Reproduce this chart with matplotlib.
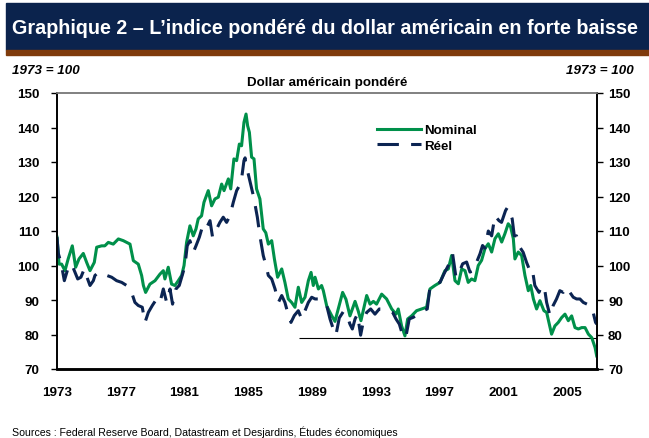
import matplotlib
matplotlib.use("Agg")
import matplotlib.pyplot as plt
from matplotlib.patches import Rectangle

plt.rcParams['font.family'] = ['Liberation Sans', 'DejaVu Sans']

# ---- data ----
nominal_years = [1973.0, 1973.13, 1973.29, 1973.5, 1973.7, 1973.96, 1974.17, 1974.38, 1974.65, 1974.86,
                 1975.07, 1975.34, 1975.49, 1975.8, 1976.0, 1976.22, 1976.53, 1976.85, 1977.16, 1977.37,
                 1977.58, 1977.79, 1978.1, 1978.31, 1978.42, 1978.56, 1978.83, 1979.15, 1979.46, 1979.67,
                 1979.77, 1979.98, 1980.19, 1980.4, 1980.61, 1980.82, 1980.97, 1981.13, 1981.34, 1981.55,
                 1981.72, 1981.86, 1982.07, 1982.22, 1982.49, 1982.7, 1982.91, 1983.12, 1983.33, 1983.48,
                 1983.75, 1983.9, 1984.1, 1984.27, 1984.44, 1984.58, 1984.73, 1984.86, 1984.96, 1985.07,
                 1985.21, 1985.36, 1985.52, 1985.73, 1985.94, 1986.1, 1986.26, 1986.47, 1986.64, 1986.84,
                 1987.1, 1987.3, 1987.51, 1987.72, 1987.93, 1988.14, 1988.35, 1988.56, 1988.77, 1988.94,
                 1989.08, 1989.19, 1989.4, 1989.6, 1989.71, 1989.92, 1990.23, 1990.44, 1990.65, 1990.92,
                 1991.13, 1991.38, 1991.7, 1991.9, 1992.07, 1992.43, 1992.64, 1992.85, 1993.05, 1993.37,
                 1993.68, 1994.0, 1994.27, 1994.41, 1994.62, 1994.83, 1995.0, 1995.25, 1995.56, 1995.88,
                 1996.19, 1996.4, 1996.71, 1997.03, 1997.34, 1997.55, 1997.76, 1997.97, 1998.18, 1998.39,
                 1998.6, 1998.8, 1999.01, 1999.22, 1999.43, 1999.64, 1999.85, 2000.06, 2000.27, 2000.48,
                 2000.69, 2000.9, 2001.1, 2001.31, 2001.46, 2001.63, 2001.73, 2001.94, 2002.15, 2002.36,
                 2002.57, 2002.72, 2002.89, 2003.09, 2003.3, 2003.55, 2003.72, 2004.03, 2004.24, 2004.45,
                 2004.66, 2004.87, 2005.08, 2005.29, 2005.5, 2005.71, 2005.92, 2006.13, 2006.34, 2006.55,
                 2006.76, 2006.86]
nominal_values = [108.2, 100.4, 100.4, 98.5, 101.9, 105.7, 99.5, 101.9, 103.5, 100.9,
                  98.5, 100.9, 105.3, 105.7, 105.7, 106.7, 106.2, 107.7, 107.2, 106.7,
                  106.2, 101.4, 100.4, 97.1, 94.2, 92.2, 94.6, 95.6, 97.5, 98.5,
                  96.1, 99.5, 94.6, 94.2, 95.6, 97.1, 100.0, 106.7, 111.5, 108.6,
                  110.6, 113.5, 114.4, 118.3, 121.7, 117.3, 119.3, 119.8, 123.6, 121.7,
                  125.1, 122.2, 130.9, 130.4, 135.2, 134.7, 141.5, 143.9, 140.5, 138.6,
                  131.4, 130.9, 122.2, 119.3, 110.6, 109.5, 106.2, 107.2, 101.9, 96.6,
                  99.0, 95.1, 90.3, 89.3, 87.9, 93.7, 89.3, 90.8, 95.6, 98.0,
                  94.2, 96.6, 93.2, 94.2, 92.7, 88.3, 85.5, 83.8, 87.5, 92.2,
                  90.2, 85.4, 89.6, 86.8, 84.0, 91.3, 88.8, 89.6, 88.8, 91.7,
                  90.3, 87.4, 85.9, 87.4, 82.5, 79.6, 84.5, 85.4, 86.9, 87.4,
                  87.9, 93.2, 94.2, 95.1, 98.5, 99.0, 102.9, 95.6, 94.7, 99.0,
                  98.5, 95.1, 96.1, 95.6, 100.0, 101.5, 104.9, 106.3, 103.9, 107.8,
                  109.2, 106.8, 109.2, 112.1, 111.2, 107.8, 101.9, 103.9, 102.9, 97.1,
                  92.7, 94.2, 90.3, 87.4, 89.8, 86.9, 86.4, 80.1, 82.5, 83.5,
                  84.9, 85.9, 84.0, 85.4, 82.0, 81.6, 82.0, 82.0, 80.1, 79.1,
                  76.2, 73.8]

real_years = [1973.0, 1973.08, 1973.25, 1973.46, 1973.71, 1973.92, 1974.09, 1974.3, 1974.5, 1974.71,
              1974.92, 1975.07, 1975.28, 1975.38, 1975.59, 1975.9, 1976.43, 1976.74, 1977.06, 1977.37,
              1977.68, 1977.89, 1978.1, 1978.35, 1978.52, 1978.73, 1978.98, 1979.25, 1979.46, 1979.67,
              1979.88, 1980.09, 1980.25, 1980.46, 1980.67, 1980.88, 1981.03, 1981.17, 1981.34, 1981.55,
              1981.72, 1981.93, 1982.14, 1982.35, 1982.6, 1982.76, 1983.02, 1983.22, 1983.43, 1983.64,
              1983.85, 1984.06, 1984.27, 1984.44, 1984.58, 1984.73, 1984.8, 1984.86, 1985.0, 1985.15,
              1985.32, 1985.42, 1985.57, 1985.73, 1985.94, 1986.11, 1986.26, 1986.47, 1986.68, 1986.89,
              1987.1, 1987.3, 1987.47, 1987.68, 1987.89, 1988.14, 1988.35, 1988.56, 1988.77, 1988.98,
              1989.19, 1989.4, 1989.71, 1989.92, 1990.13, 1990.34, 1990.5, 1990.71, 1990.96, 1991.17,
              1991.38, 1991.53, 1991.7, 1991.85, 1992.05, 1992.25, 1992.43, 1992.68, 1992.95, 1993.22,
              1993.47, 1993.79, 1994.06, 1994.27, 1994.48, 1994.73, 1994.9, 1995.1, 1995.36, 1995.67,
              1995.98, 1996.23, 1996.4, 1996.71, 1997.03, 1997.28, 1997.55, 1997.82, 1998.03, 1998.24,
              1998.45, 1998.7, 1998.91, 1999.12, 1999.33, 1999.54, 1999.7, 1999.85, 2000.06, 2000.27,
              2000.48, 2000.73, 2000.89, 2001.14, 2001.27, 2001.42, 2001.56, 2001.69, 2001.83, 2002.04,
              2002.25, 2002.46, 2002.67, 2002.82, 2002.98, 2003.24, 2003.4, 2003.61, 2003.72, 2003.93,
              2004.13, 2004.34, 2004.55, 2004.76, 2004.97, 2005.18, 2005.39, 2005.6, 2005.81, 2006.02,
              2006.44, 2006.64, 2006.79, 2006.87]
real_values = [108.2, 103.5, 100.9, 95.6, 99.5, 100.4, 98.5, 96.1, 96.6, 99.0,
               96.1, 94.2, 95.6, 97.1, 98.0, 97.5, 96.6, 95.6, 95.1, 94.2,
               92.2, 89.3, 88.4, 87.9, 83.5, 86.4, 88.4, 90.3, 89.3, 93.2,
               89.3, 93.2, 88.8, 93.2, 94.2, 97.5, 100.0, 105.7, 107.2, 103.8,
               105.7, 108.2, 111.5, 110.6, 113.0, 108.2, 110.6, 112.5, 114.0, 112.5,
               114.4, 118.3, 121.7, 123.1, 125.1, 130.4, 131.2, 128.9, 126.5, 123.6,
               120.2, 117.8, 114.0, 108.6, 102.9, 100.0, 97.1, 96.1, 93.2, 89.3,
               91.3, 89.3, 86.4, 83.5, 85.5, 86.9, 84.5, 86.9, 89.3, 90.8,
               90.3, 90.3, 88.8, 88.4, 84.5, 81.5, 79.8, 84.8, 86.6, 85.9,
               83.0, 81.6, 84.5, 85.9, 79.8, 84.5, 86.4, 87.4, 85.9, 87.4,
               87.4, 86.9, 86.4, 84.5, 83.0, 79.1, 79.6, 84.5, 85.0, 85.9,
               86.9, 87.4, 93.7, 94.7, 95.1, 97.6, 100.0, 103.4, 96.6, 98.1,
               100.5, 101.0, 98.1, 98.5, 101.0, 103.4, 105.8, 105.0, 110.0, 108.6,
               114.4, 113.0, 112.5, 115.9, 116.9, 115.4, 113.5, 108.6, 108.6, 105.3,
               103.8, 100.9, 98.5, 99.0, 94.2, 92.2, 94.2, 92.7, 89.3, 85.5,
               88.4, 90.3, 92.7, 92.2, 93.7, 92.2, 90.8, 90.3, 90.3, 89.3,
               88.4, 86.4, 83.5, 83.0]

reference_level = 79.0
reference_start = 1988.2
x_ticks = [1973, 1977, 1981, 1985, 1989, 1993, 1997, 2001, 2005]
y_ticks = [70, 80, 90, 100, 110, 120, 130, 140, 150]

# ---- figure ----
W, H = 649, 439
fig = plt.figure(figsize=(W / 100, H / 100), dpi=100)
fig.patch.set_facecolor('white')

def fx(px):
    return px / W

def fy(py):
    return 1 - py / H

# banner
fig.patches.append(Rectangle((fx(6), fy(50.5)), fx(649) - fx(6), fy(4) - fy(50.5),
                             transform=fig.transFigure, color='#0B234D', zorder=0))
fig.patches.append(Rectangle((fx(6), fy(55.5)), fx(649) - fx(6), fy(50.5) - fy(55.5),
                             transform=fig.transFigure, color='#7F3B0C', zorder=0))
fig.text(fx(12), fy(28.5), "Graphique 2 – L\u2019indice pondéré du dollar américain en forte baisse",
         color='white', fontsize=14.2, fontweight='bold', va='center', ha='left')

fig.text(fx(12), fy(71), "1973 = 100", fontsize=9.6, fontweight='bold', style='italic',
         va='center', ha='left')
fig.text(fx(634), fy(71), "1973 = 100", fontsize=9.6, fontweight='bold', style='italic',
         va='center', ha='right')
fig.text(fx(327), fy(83), "Dollar américain pondéré", fontsize=9.6, fontweight='bold',
         va='center', ha='center')
fig.text(fx(12), fy(432), "Sources : Federal Reserve Board, Datastream et Desjardins, Études économiques",
         fontsize=7.6, va='center', ha='left')

ax = fig.add_axes([fx(57), fy(370), fx(597) - fx(57), fy(94) - fy(370)])
ax.set_xlim(1973.0, 2006.88)
ax.set_ylim(70, 150)

green = '#00904A'
navy = '#0B2452'
ax.plot(nominal_years, nominal_values, color=green, lw=2.2, label='Nominal', zorder=3,
        solid_joinstyle='round')
ax.plot(real_years, real_values, color=navy, lw=2.2, linestyle=(0, (7, 4)), label='Réel', zorder=4)
ax.hlines(reference_level, reference_start, 2006.88, color='black', lw=0.8, zorder=2)

ax.set_xticks(x_ticks)
ax.set_xticklabels([str(t) for t in x_ticks], fontweight='bold')
ax.set_yticks(y_ticks)
ax.set_yticklabels([str(t) for t in y_ticks], fontweight='bold')
ax.tick_params(axis='x', length=0, pad=12, labelsize=9.6)
ax.tick_params(axis='y', length=4, width=1, direction='out', labelsize=9.6,
               left=True, right=False, labelleft=True, labelright=False, pad=8.5)

ax2 = ax.twinx()
ax2.set_ylim(70, 150)
ax2.set_yticks(y_ticks)
ax2.set_yticklabels([str(t) for t in y_ticks], fontweight='bold')
ax2.tick_params(axis='y', length=4, width=1, direction='out', labelsize=9.6, pad=4)

for a in (ax, ax2):
    a.spines['top'].set_color('#808080')
    a.spines['top'].set_linewidth(1.2)
    a.spines['left'].set_linewidth(1.2)
    a.spines['right'].set_linewidth(1.2)
    a.spines['bottom'].set_linewidth(1.8)

leg = ax.legend(loc='upper left', bbox_to_anchor=(fx(365), fy(113)), bbox_transform=fig.transFigure,
                frameon=False, handlelength=3.3, handletextpad=0.25, labelspacing=0.25,
                prop={'weight': 'bold', 'size': 9.6})

fig.savefig('out.png', dpi=100)
